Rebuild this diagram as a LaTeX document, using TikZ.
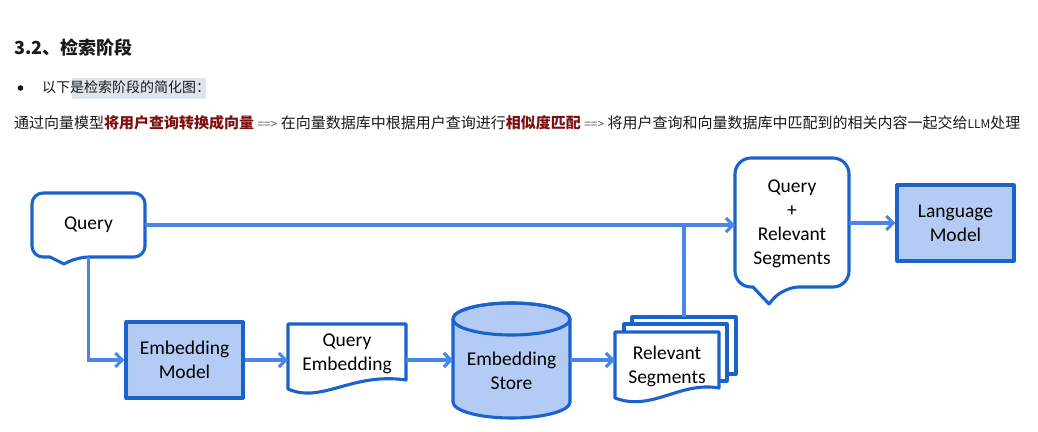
\documentclass[tikz,border=0pt]{standalone}
\usepackage{fontspec}
\setmainfont{Carlito}
\newfontfamily\cjkfont{Noto Sans CJK SC}
\usetikzlibrary{arrows.meta}
\definecolor{connblue}{RGB}{74,134,232}
\definecolor{edgeblue}{RGB}{26,98,204}
\definecolor{boxfill}{RGB}{180,204,245}
\definecolor{darkred}{RGB}{128,16,16}
\definecolor{hlgray}{RGB}{222,228,236}
\definecolor{txtgray}{RGB}{25,25,25}
\definecolor{arrgray}{RGB}{90,90,90}
\begin{document}
\begin{tikzpicture}[x=1pt,y=-1pt,
  conn/.style={draw=connblue, line width=3.1pt, -{Straight Barb[length=7pt,width=14pt]}},
  plainconn/.style={draw=connblue, line width=3.1pt},
  nodeedge/.style={draw=edgeblue, line width=3.1pt, line join=round},
  lbl/.style={font=\fontsize{19.5}{24}\selectfont, align=center, text=black, inner sep=0pt},
  anchorbox/.style={inner sep=0pt, outer sep=0pt},
  txtline/.style={anchor=base west, inner sep=0pt, text=txtgray},
]
\useasboundingbox (0,0) rectangle (1038,431);
\fill[white] (0,0) rectangle (1038,431);

% ---------- header text ----------
\node[txtline, font=\cjkfont\bfseries\fontsize{18}{18}\selectfont] (head) at (14,54) {3.2、检索阶段};
\fill[txtgray] (20.5,88) circle (2.8);
\fill[hlgray] (72,78) rectangle (206,99);
\node[txtline, font=\cjkfont\fontsize{14}{15}\selectfont] (bul) at (42,92) {以下是检索阶段的简化图：};
\node[txtline, font=\cjkfont\fontsize{15}{16}\selectfont] (desc) at (14,128)
  {通过向量模型{\bfseries\color{darkred}将用户查询转换成向量} {\color{arrgray}\fontsize{12}{12}\selectfont ==>} 在向量数据库中根据用户查询进行{\bfseries\color{darkred}相似度匹配} {\color{arrgray}\fontsize{12}{12}\selectfont ==>} 将用户查询和向量数据库中匹配到的相关内容一起交给{\fontsize{12}{12}\selectfont LLM}处理};

% ---------- Query callout ----------
\draw[nodeedge, fill=white, rounded corners=11] (50,257) -- (32,257) -- (32,193) -- (145,193) -- (145,257) -- (78,257) [sharp corners] -- (64,264) -- cycle;
\node[lbl, minimum width=113, minimum height=64] (q) at (88.5,225) {Query};

% ---------- Query + Relevant Segments callout ----------
\draw[nodeedge, fill=white, rounded corners=16] (753,287) -- (735,287) -- (735,158) -- (849,158) -- (849,287) -- (783,287) [sharp corners] -- (769,304) -- cycle;
\node[anchorbox, minimum width=114, minimum height=129] (qr) at (792,222.5) {};
\node[lbl] (qrtext) at (792,224) {Query\\+\\Relevant\\Segments};

% ---------- Language Model ----------
\node[lbl, nodeedge, fill=boxfill, minimum width=117, minimum height=76] (lm) at (955.5,223) {Language\\Model};

% ---------- Embedding Model ----------
\node[lbl, nodeedge, fill=boxfill, minimum width=117, minimum height=76] (em) at (184.5,360) {Embedding\\Model};

% ---------- Query Embedding (document) ----------
\draw[nodeedge, fill=white] (288,324) -- (406,324) -- (406,380) .. controls (352,372) and (322,404) .. (288,389) -- cycle;
\node[anchorbox, minimum width=118, minimum height=72] (qe) at (347,360) {};
\node[lbl] (qetext) at (347,354) {Query\\Embedding};

% ---------- Embedding Store (cylinder) ----------
\draw[nodeedge, fill=boxfill] (453,319) -- (453,402) arc (180:0:58.5 and 16) -- (570,319) arc (0:-180:58.5 and 16) -- cycle;
\draw[nodeedge] (511.5,319) ellipse (58.5 and 16);
\node[anchorbox, minimum width=117, minimum height=116] (es) at (511.5,360) {};
\node[lbl] (estext) at (511.5,370.5) {Embedding\\Store};

% ---------- Relevant Segments (stacked documents) ----------
\draw[nodeedge, fill=white] (632,317) rectangle (736,374);
\draw[nodeedge, fill=white] (624,324) rectangle (727,381);
\draw[nodeedge, fill=white] (615,332) -- (719,332) -- (719,388) .. controls (680,381) and (652,412) .. (615,398) -- cycle;
\node[anchorbox, minimum width=104, minimum height=57] (rs3) at (684,345.5) {};
\node[anchorbox, minimum width=104, minimum height=56] (rs) at (667,360) {};
\node[lbl] (rstext) at (667,366.5) {Relevant\\Segments};

% ---------- connectors ----------
\draw[conn] (q.east) -- (q.east -| qr.west);
\draw[plainconn] (rs3.north) -- (rs3.north |- q.east);
\draw[conn] (q.south) -- (q.south |- em.west) -- (em.west);
\draw[conn] (em.east) -- (qe.west);
\draw[conn] (qe.east) -- (es.west);
\draw[conn] (es.east) -- (rs.west);
\draw[conn] (qr.east |- lm.west) -- (lm.west);
\end{tikzpicture}
\end{document}
